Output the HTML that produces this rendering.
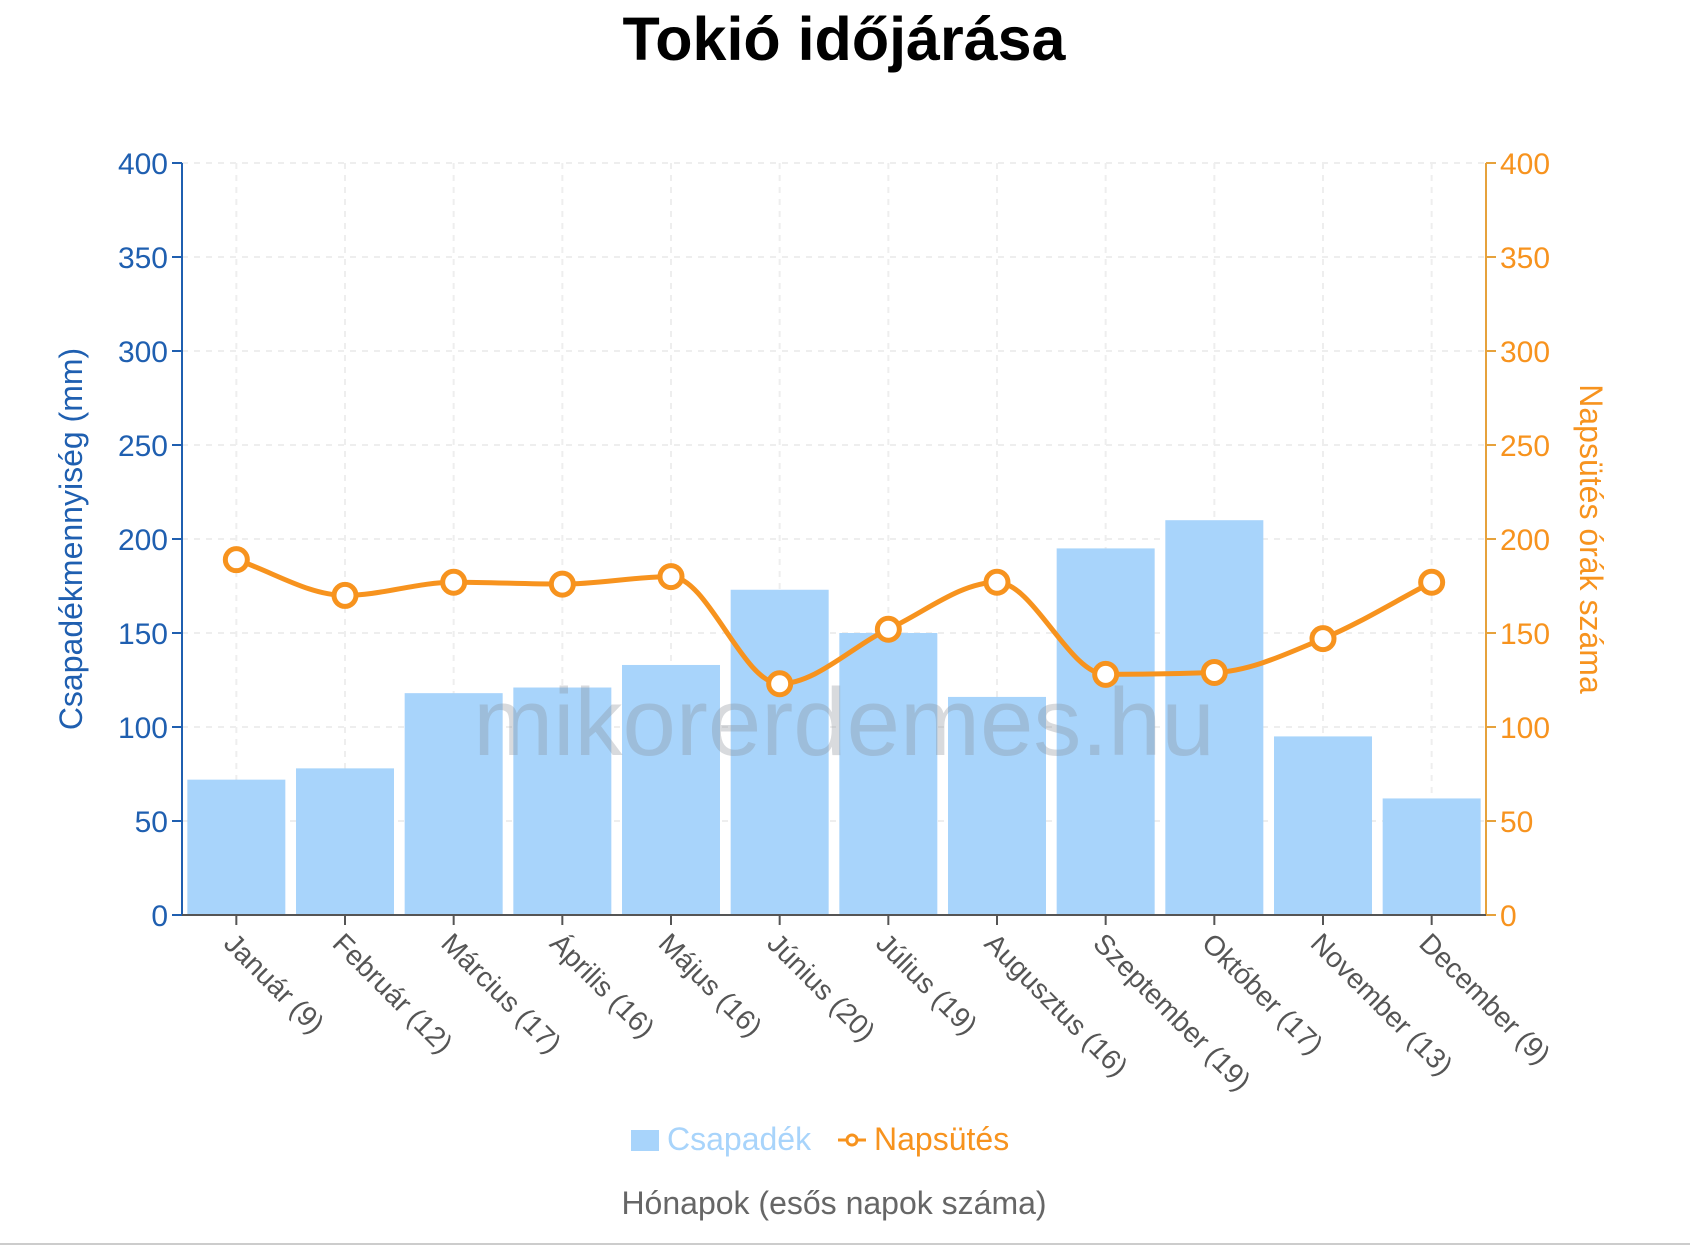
<!DOCTYPE html>
<html><head><meta charset="utf-8"><style>
html,body{margin:0;padding:0;background:#fff;}
svg{display:block;font-family:"Liberation Sans",sans-serif;}
</style></head><body>
<svg id="s" width="1690" height="1246" viewBox="0 0 1690 1246" xmlns="http://www.w3.org/2000/svg">
<text x="844" y="60" text-anchor="middle" font-size="61" font-weight="bold" fill="#000">Tokió időjárása</text>
<g id="grid"></g>
<g id="bars"></g>
<text x="844" y="755" text-anchor="middle" font-size="96" fill="#8a8f99" fill-opacity="0.33">mikorerdemes.hu</text>
<g id="axes"></g>
<g id="line"></g>
<text transform="translate(82,539) rotate(-90)" text-anchor="middle" font-size="32" fill="#1f5fb0">Csapadékmennyiség (mm)</text>
<text transform="translate(1580,539) rotate(90)" text-anchor="middle" font-size="32" fill="#f7931e">Napsütés órák száma</text>
<rect x="631" y="1130" width="28" height="21" fill="#a8d4fb"/>
<text x="667" y="1150" font-size="32" fill="#a8d4fb">Csapadék</text>
<line x1="838" y1="1140" x2="866" y2="1140" stroke="#f7931e" stroke-width="3"/>
<circle cx="852" cy="1140" r="5" fill="#fff" stroke="#f7931e" stroke-width="3"/>
<text x="874" y="1150" font-size="32" fill="#f7931e">Napsütés</text>
<text x="834" y="1214" text-anchor="middle" font-size="32" fill="#666">Hónapok (esős napok száma)</text>
<line x1="0" y1="1244" x2="1690" y2="1244" stroke="#ccc" stroke-width="2"/>
</svg>
<script>
const L=182,R=1486,T=163,B=915,W=(R-L)/12;
const y=v=>B-(v/400)*(B-T);
const ns="http://www.w3.org/2000/svg";
function el(p,t,a,txt){const e=document.createElementNS(ns,t);for(const k in a)e.setAttribute(k,a[k]);if(txt!==undefined)e.textContent=String(txt);document.getElementById(p).appendChild(e);return e;}
const rain=[72,78,118,121,133,173,150,116,195,210,95,62];
const sun=[189,170,177,176,180,123,152,177,128,129,147,177];
const lab=["Január (9)","Február (12)","Március (17)","Április (16)","Május (16)","Június (20)","Július (19)","Augusztus (16)","Szeptember (19)","Október (17)","November (13)","December (9)"];
for(let v=0;v<=400;v+=50){
 if(v>0)el("grid","line",{x1:L,x2:R,y1:y(v),y2:y(v),stroke:"#eeeeee","stroke-width":2,"stroke-dasharray":"6,6"});
 el("axes","line",{x1:L-10,x2:L,y1:y(v),y2:y(v),stroke:"#1f5fb0","stroke-width":2});
 el("axes","text",{x:L-14,y:y(v)+11,"text-anchor":"end","font-size":30,fill:"#1f5fb0"},v);
 el("axes","line",{x1:R,x2:R+10,y1:y(v),y2:y(v),stroke:"#e6a23c","stroke-width":2});
 el("axes","text",{x:R+14,y:y(v)+11,"font-size":30,fill:"#f7931e"},v);
}
for(let i=0;i<12;i++){
 const cx=L+W*(i+0.5);
 el("grid","line",{x1:cx,x2:cx,y1:T,y2:B,stroke:"#eeeeee","stroke-width":2,"stroke-dasharray":"6,6"});
 el("bars","rect",{x:cx-49,y:y(rain[i]),width:98,height:B-y(rain[i]),fill:"#a8d4fb"});
 el("axes","line",{x1:cx,x2:cx,y1:B,y2:B+10,stroke:"#555","stroke-width":2});
 el("axes","text",{transform:`translate(${cx-14},${B+30}) rotate(45)`,"font-size":28,fill:"#555"},lab[i]);
}
el("axes","line",{x1:L,x2:L,y1:T,y2:B,stroke:"#1f5fb0","stroke-width":2});
el("axes","line",{x1:R,x2:R,y1:T,y2:B,stroke:"#e6a23c","stroke-width":2});
el("axes","line",{x1:L,x2:R,y1:B,y2:B,stroke:"#555","stroke-width":2});
const P=sun.map((v,i)=>[L+W*(i+0.5),y(v)]);
const n=P.length,h=W,dl=[],m=[];
for(let i=0;i<n-1;i++)dl.push((P[i+1][1]-P[i][1])/h);
for(let i=0;i<n;i++){
 if(i==0)m.push(dl[0]);else if(i==n-1)m.push(dl[n-2]);
 else{const a=dl[i-1],b=dl[i];if(a*b<=0)m.push(0);else{const s=(a+b)/2;m.push(Math.sign(a)*Math.min(Math.abs(s),2*Math.abs(a),2*Math.abs(b)));}}
}
let d=`M${P[0][0]},${P[0][1]}`;
for(let i=0;i<n-1;i++){
 d+=` C${P[i][0]+h/3},${P[i][1]+m[i]*h/3} ${P[i+1][0]-h/3},${P[i+1][1]-m[i+1]*h/3} ${P[i+1][0]},${P[i+1][1]}`;
}
el("line","path",{d:d,fill:"none",stroke:"#f7931e","stroke-width":5});
P.forEach(p=>el("line","circle",{cx:p[0],cy:p[1],r:11,fill:"#fff",stroke:"#f7931e","stroke-width":5}));
</script>
</body></html>
